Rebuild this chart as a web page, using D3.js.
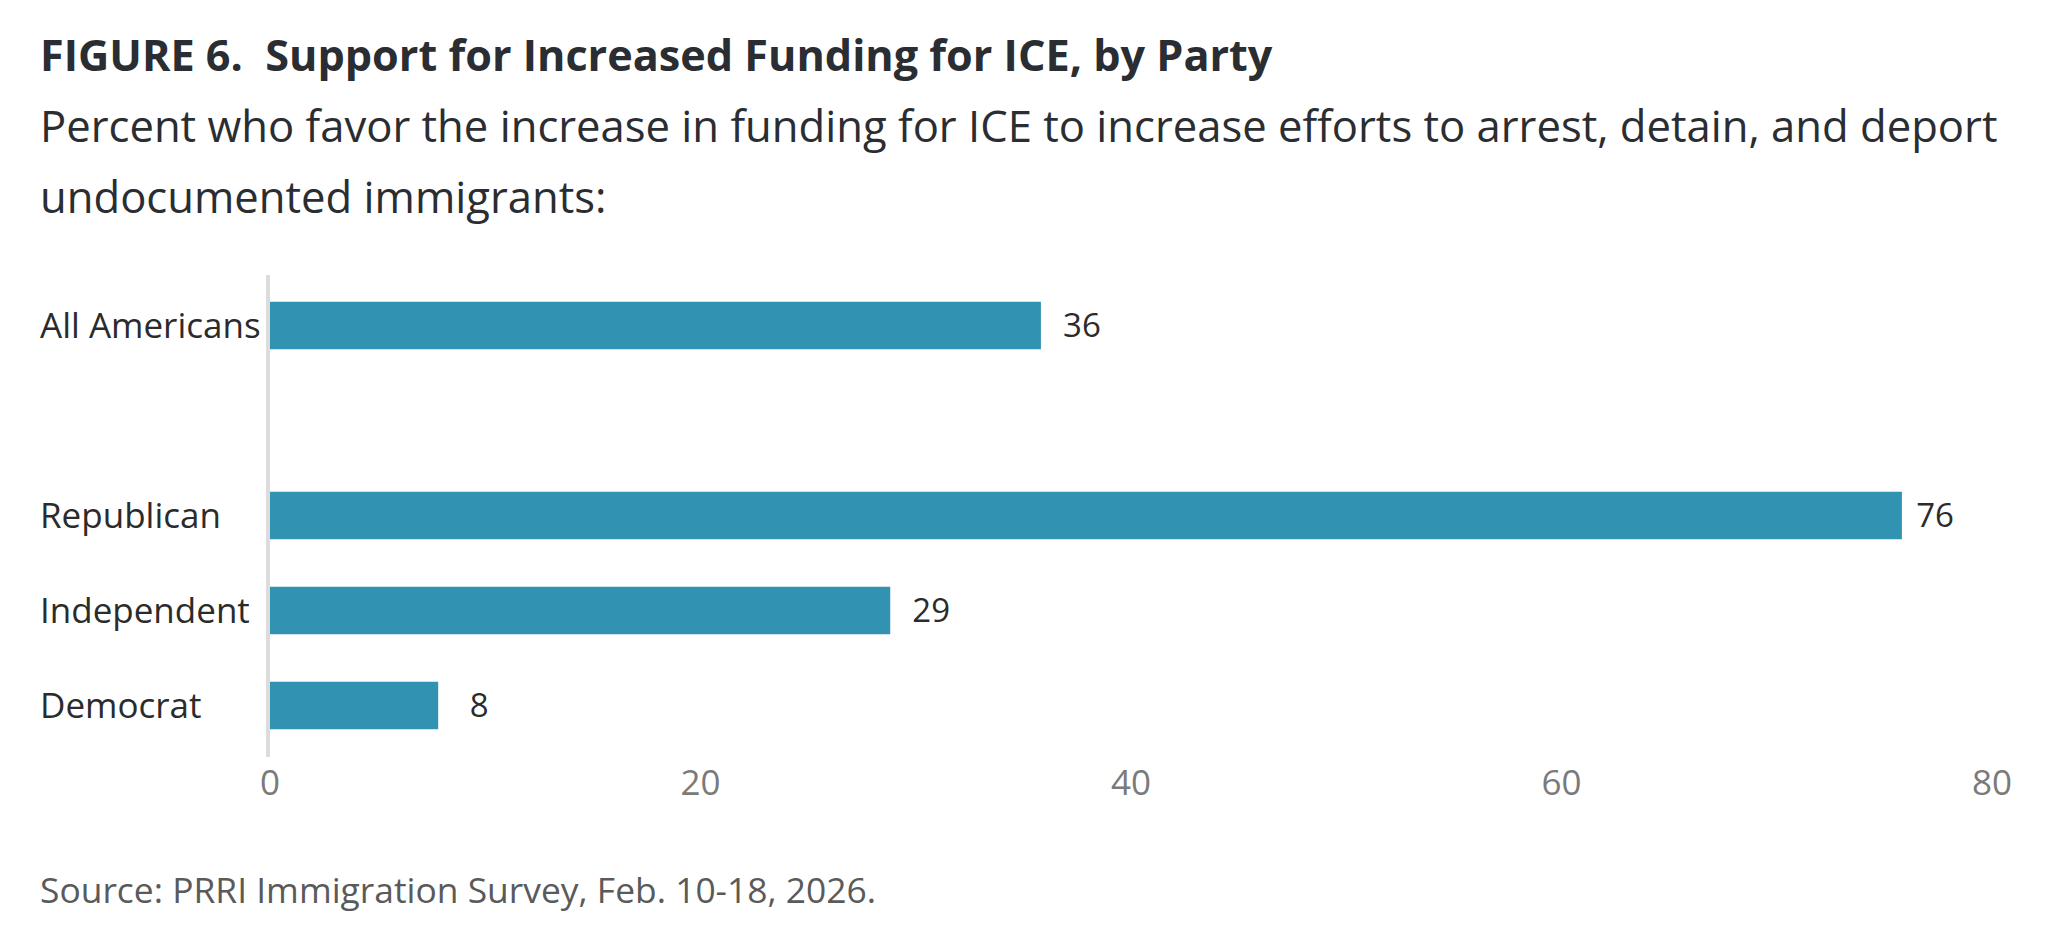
<!DOCTYPE html>
<html><head><meta charset="utf-8">
<script src="https://cdn.jsdelivr.net/npm/d3@7"></script>
<style>
html,body{margin:0;padding:0;background:#fff;}
svg text{font-family:"Open Sans",sans-serif;}
</style></head>
<body>
<svg id="chart" width="2063" height="941"></svg>
<script>
const categories = ["All Americans", "", "Republican", "Independent", "Democrat"];
const values = [36, null, 76, 29, 8];
const tickValues = [0, 20, 40, 60, 80];
const titleText = "FIGURE 6.\u00a0 Support for Increased Funding for ICE, by Party";
const subtitleLines = ["Percent who favor the increase in funding for ICE to increase efforts to arrest, detain, and deport", "undocumented immigrants:"];
const sourceText = "Source: PRRI Immigration Survey, Feb. 10-18, 2026.";

const svg = d3.select("#chart");
const x = d3.scaleLinear().domain([0, 80]).range([266, 1988]);
const y = d3.scaleBand().domain(categories).range([278, 753]).paddingInner(0.5).paddingOuter(0.25);

svg.append("text").attr("x", 40).attr("y", 71).attr("font-size", 43.2).attr("font-weight", 700)
  .attr("fill", "#2a2d31").text(titleText);
svg.selectAll("text.sub").data(subtitleLines).join("text").attr("class", "sub")
  .attr("x", 40).attr("y", (d, i) => 142 + i * 71).attr("font-size", 43.6).attr("fill", "#2a2d31").text(d => d);

const data = categories.map((c, i) => ({c, v: values[i]})).filter(d => d.v !== null);

svg.selectAll("rect.bar").data(data).join("rect").attr("class", "bar")
  .attr("x", x(0)).attr("y", d => y(d.c)).attr("width", d => x(d.v) - x(0)).attr("height", y.bandwidth())
  .attr("fill", "#3192b2");

svg.append("line").attr("x1", 268).attr("x2", 268).attr("y1", 275).attr("y2", 757)
  .attr("stroke", "#dcdcdc").attr("stroke-width", 4);

svg.selectAll("text.cat").data(data).join("text").attr("class", "cat")
  .attr("x", 40).attr("y", d => y(d.c) + y.bandwidth() / 2).attr("dy", "0.36em")
  .attr("font-size", 35).attr("fill", "#2b2b2b").text(d => d.c);

svg.selectAll("text.val").data(data).join("text").attr("class", "val")
  .attr("x", d => Math.min(x(d.v) + 41, 1935)).attr("y", d => y(d.c) + y.bandwidth() / 2).attr("dy", "0.36em")
  .attr("text-anchor", "middle").attr("font-size", 33).attr("fill", "#2b2b2b").text(d => d.v);

const axis = d3.axisBottom(x).tickValues(tickValues).tickSize(0).tickPadding(0);
const ag = svg.append("g").attr("transform", "translate(3.5,770)").call(axis);
ag.select(".domain").remove();
ag.selectAll("text").attr("font-size", 35).attr("fill", "#7a7a7a").attr("font-family", "Open Sans, sans-serif").attr("dy", "0.71em");

svg.append("text").attr("x", 40).attr("y", 903).attr("font-size", 35.4).attr("fill", "#5a5a5a").text(sourceText);
</script>
</body></html>
